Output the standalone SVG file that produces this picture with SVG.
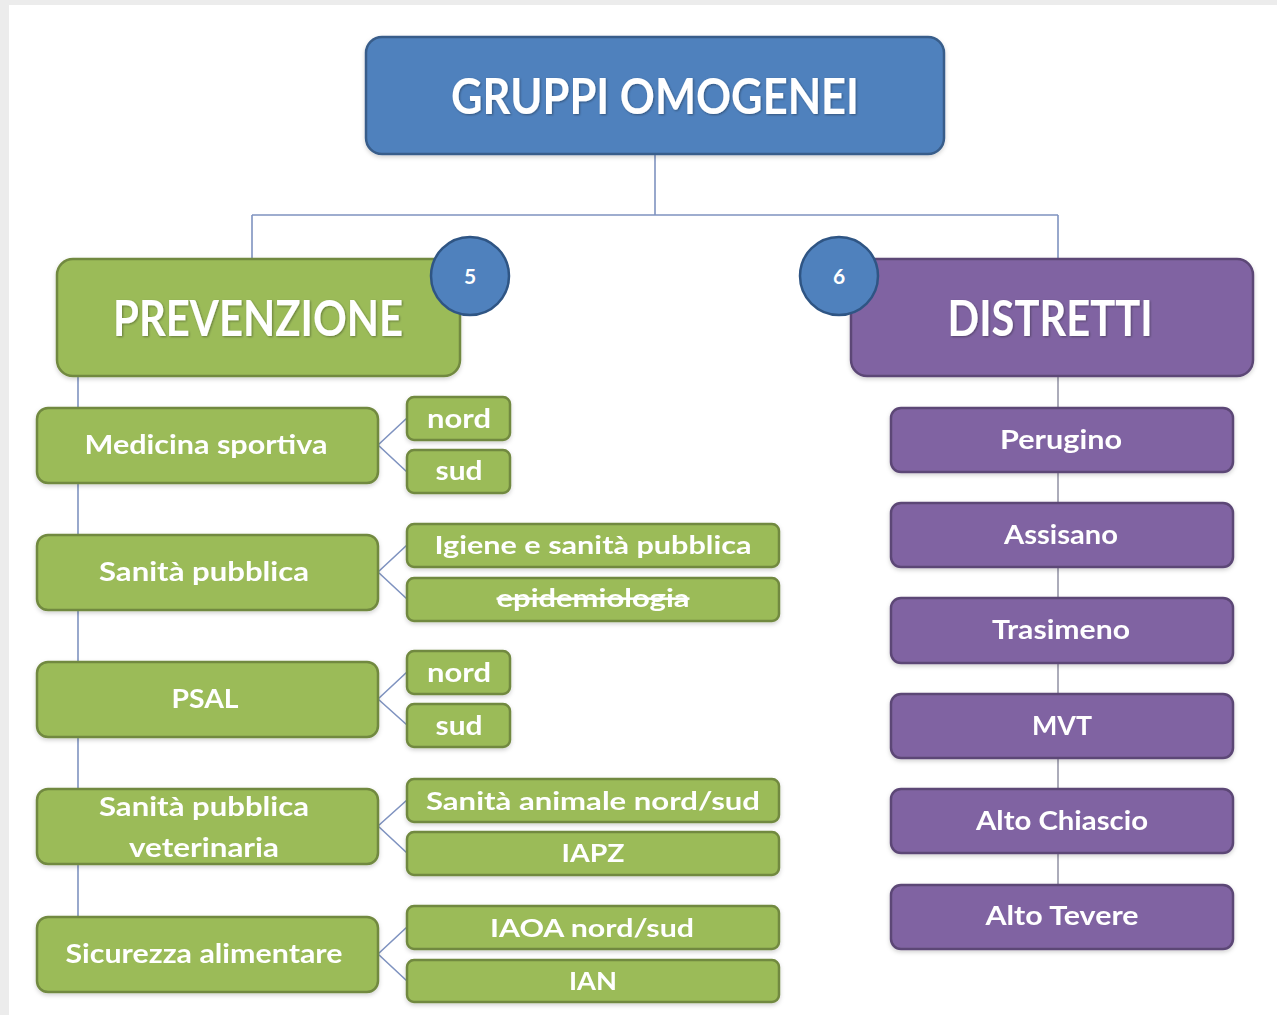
<svg xmlns="http://www.w3.org/2000/svg" width="1277" height="1015" viewBox="0 0 1277 1015">
<style>
.bg{fill:#ffffff}
.frame{fill:#ececec}
.conn{fill:none;stroke:#7f93c0;stroke-width:1.6}
.connr{fill:none;stroke:#a3a3b3;stroke-width:1.8}
.blue{fill:#4f81bd;stroke:#385d8a;stroke-width:2.5}
.green{fill:#9bbb59;stroke:#71893f;stroke-width:2.5}
.purple{fill:#8064a2;stroke:#5c4776;stroke-width:2.5}
.badge{fill:#4f81bd;stroke:#2f5584;stroke-width:2.5}
text{font-family:Lato,"Liberation Sans",Arial,sans-serif;font-weight:bold;fill:#ffffff;text-anchor:middle}
.big{font-size:50px}
.mid{font-size:26px}
.small{font-size:25px}
.num{font-size:21px}
</style>
<defs>
<filter id="sh" x="-10%" y="-10%" width="120%" height="130%">
<feDropShadow dx="0" dy="2" stdDeviation="2" flood-color="#000" flood-opacity="0.18"/>
</filter>
<filter id="ts" x="-5%" y="-20%" width="110%" height="140%">
<feDropShadow dx="1" dy="1" stdDeviation="0.8" flood-color="#000" flood-opacity="0.35"/>
</filter>
</defs>
<rect class="bg" x="0" y="0" width="1277" height="1015"/>
<rect class="frame" x="0" y="0" width="1277" height="5"/>
<rect class="frame" x="0" y="0" width="9" height="1015"/>

<g id="connectors">
<path class="conn" d="M655 154 V215 M252 215 H1058 M252 215 V259 M1058 215 V259"/>
<path class="conn" d="M78 376 V917"/>
<path class="connr" d="M1058 376 V885"/>
<path class="conn" d="M378 445 L407 418 M378 445 L407 472"/>
<path class="conn" d="M378 572 L407 545 M378 572 L407 599"/>
<path class="conn" d="M378 699 L407 672 M378 699 L407 725"/>
<path class="conn" d="M378 826 L407 800 M378 826 L407 853"/>
<path class="conn" d="M378 954 L407 927 M378 954 L407 981"/>
</g>

<g id="gruppi-omogenei" filter="url(#sh)">
<rect class="blue" x="366" y="37" width="578" height="117" rx="16"/>
<text class="big" x="655" y="114" textLength="408" lengthAdjust="spacingAndGlyphs" filter="url(#ts)">GRUPPI OMOGENEI</text>
</g>

<g id="prevenzione" filter="url(#sh)">
<rect class="green" x="57" y="259" width="403" height="117" rx="16"/>
<text class="big" x="258" y="336" textLength="290" lengthAdjust="spacingAndGlyphs" filter="url(#ts)">PREVENZIONE</text>
</g>
<g id="badge-5">
<circle class="badge" cx="470" cy="276" r="39"/>
<text class="num" x="470" y="284">5</text>
</g>

<g id="distretti" filter="url(#sh)">
<rect class="purple" x="851" y="259" width="402" height="117" rx="16"/>
<text class="big" x="1050" y="336" textLength="205" lengthAdjust="spacingAndGlyphs" filter="url(#ts)">DISTRETTI</text>
</g>
<g id="badge-6">
<circle class="badge" cx="839" cy="276" r="39"/>
<text class="num" x="839" y="284">6</text>
</g>

<g id="medicina-sportiva" filter="url(#sh)">
<rect class="green" x="37" y="408" width="341" height="75" rx="11"/>
<text class="mid" x="206" y="454" textLength="243" lengthAdjust="spacingAndGlyphs">Medicina sportiva</text>
</g>
<g id="ms-nord" filter="url(#sh)">
<rect class="green" x="407" y="397" width="103" height="43" rx="7"/>
<text class="mid" x="459" y="428" textLength="64" lengthAdjust="spacingAndGlyphs">nord</text>
</g>
<g id="ms-sud" filter="url(#sh)">
<rect class="green" x="407" y="450" width="103" height="43" rx="7"/>
<text class="mid" x="459" y="480" textLength="47" lengthAdjust="spacingAndGlyphs">sud</text>
</g>

<g id="sanita-pubblica" filter="url(#sh)">
<rect class="green" x="37" y="535" width="341" height="75" rx="11"/>
<text class="mid" x="204" y="581" textLength="210" lengthAdjust="spacingAndGlyphs">Sanità pubblica</text>
</g>
<g id="igiene" filter="url(#sh)">
<rect class="green" x="407" y="524" width="372" height="43" rx="7"/>
<text class="small" x="593" y="554" textLength="317" lengthAdjust="spacingAndGlyphs">Igiene e sanità pubblica</text>
</g>
<g id="epidemiologia" filter="url(#sh)">
<rect class="green" x="407" y="578" width="372" height="43" rx="7"/>
<text class="small" x="593" y="607" textLength="193" lengthAdjust="spacingAndGlyphs" text-decoration="line-through">epidemiologia</text>
</g>

<g id="psal" filter="url(#sh)">
<rect class="green" x="37" y="662" width="341" height="75" rx="11"/>
<text class="mid" x="205" y="708" textLength="67" lengthAdjust="spacingAndGlyphs">PSAL</text>
</g>
<g id="psal-nord" filter="url(#sh)">
<rect class="green" x="407" y="651" width="103" height="43" rx="7"/>
<text class="mid" x="459" y="682" textLength="64" lengthAdjust="spacingAndGlyphs">nord</text>
</g>
<g id="psal-sud" filter="url(#sh)">
<rect class="green" x="407" y="704" width="103" height="43" rx="7"/>
<text class="mid" x="459" y="735" textLength="47" lengthAdjust="spacingAndGlyphs">sud</text>
</g>

<g id="sanita-veterinaria" filter="url(#sh)">
<rect class="green" x="37" y="789" width="341" height="75" rx="11"/>
<text class="mid" x="204" y="816" textLength="210" lengthAdjust="spacingAndGlyphs">Sanità pubblica</text>
<text class="mid" x="204" y="857" textLength="150" lengthAdjust="spacingAndGlyphs">veterinaria</text>
</g>
<g id="sanita-animale" filter="url(#sh)">
<rect class="green" x="407" y="779" width="372" height="43" rx="7"/>
<text class="small" x="593" y="810" textLength="334" lengthAdjust="spacingAndGlyphs">Sanità animale nord/sud</text>
</g>
<g id="iapz" filter="url(#sh)">
<rect class="green" x="407" y="832" width="372" height="43" rx="7"/>
<text class="small" x="593" y="862" textLength="63" lengthAdjust="spacingAndGlyphs">IAPZ</text>
</g>

<g id="sicurezza-alimentare" filter="url(#sh)">
<rect class="green" x="37" y="917" width="341" height="75" rx="11"/>
<text class="mid" x="204" y="963" textLength="277" lengthAdjust="spacingAndGlyphs">Sicurezza alimentare</text>
</g>
<g id="iaoa" filter="url(#sh)">
<rect class="green" x="407" y="906" width="372" height="43" rx="7"/>
<text class="small" x="592" y="937" textLength="204" lengthAdjust="spacingAndGlyphs">IAOA nord/sud</text>
</g>
<g id="ian" filter="url(#sh)">
<rect class="green" x="407" y="960" width="372" height="42" rx="7"/>
<text class="small" x="593" y="990" textLength="48" lengthAdjust="spacingAndGlyphs">IAN</text>
</g>

<g id="perugino" filter="url(#sh)">
<rect class="purple" x="891" y="408" width="342" height="64" rx="10"/>
<text class="mid" x="1061" y="449" textLength="122" lengthAdjust="spacingAndGlyphs">Perugino</text>
</g>
<g id="assisano" filter="url(#sh)">
<rect class="purple" x="891" y="503" width="342" height="64" rx="10"/>
<text class="mid" x="1061" y="544" textLength="114" lengthAdjust="spacingAndGlyphs">Assisano</text>
</g>
<g id="trasimeno" filter="url(#sh)">
<rect class="purple" x="891" y="598" width="342" height="65" rx="10"/>
<text class="mid" x="1061" y="639" textLength="138" lengthAdjust="spacingAndGlyphs">Trasimeno</text>
</g>
<g id="mvt" filter="url(#sh)">
<rect class="purple" x="891" y="694" width="342" height="64" rx="10"/>
<text class="mid" x="1062" y="735" textLength="60" lengthAdjust="spacingAndGlyphs">MVT</text>
</g>
<g id="alto-chiascio" filter="url(#sh)">
<rect class="purple" x="891" y="789" width="342" height="64" rx="10"/>
<text class="mid" x="1062" y="830" textLength="172" lengthAdjust="spacingAndGlyphs">Alto Chiascio</text>
</g>
<g id="alto-tevere" filter="url(#sh)">
<rect class="purple" x="891" y="885" width="342" height="64" rx="10"/>
<text class="mid" x="1062" y="925" textLength="153" lengthAdjust="spacingAndGlyphs">Alto Tevere</text>
</g>
</svg>
